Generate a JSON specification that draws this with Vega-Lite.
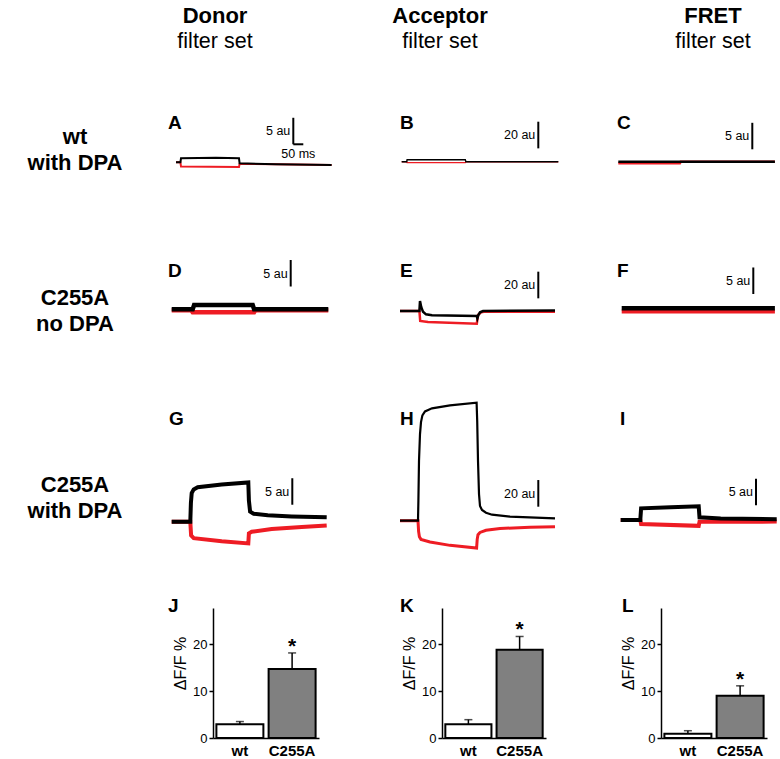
{
  "$schema": "https://vega.github.io/schema/vega-lite/v6.json",
  "padding": 0,
  "background": "white",
  "spacing": 0,
  "config": {"view": {"stroke": null}, "font": "Liberation Sans", "title": {"color": "black"}},
  "datasets": {
    "headers": [
      {"col": "Donor", "title": "Donor", "sub": "filter set"},
      {"col": "Acceptor", "title": "Acceptor", "sub": "filter set"},
      {"col": "FRET", "title": "FRET", "sub": "filter set"}
    ],
    "rowlabels": [
      {"row": 1, "label": "wt\nwith DPA"},
      {"row": 2, "label": "C255A\nno DPA"},
      {"row": 3, "label": "C255A\nwith DPA"}
    ],
    "traces": [
      {"panel":"A","s":"k","t":0,"v":0},{"panel":"A","s":"k","t":22,"v":0},{"panel":"A","s":"k","t":25,"v":0.75},{"panel":"A","s":"k","t":200,"v":0.85},{"panel":"A","s":"k","t":315,"v":0.75},{"panel":"A","s":"k","t":318,"v":-0.2},{"panel":"A","s":"k","t":500,"v":-0.35},{"panel":"A","s":"k","t":778,"v":-0.5},
      {"panel":"A","s":"r","t":0,"v":0},{"panel":"A","s":"r","t":22,"v":0},{"panel":"A","s":"r","t":25,"v":-0.8},{"panel":"A","s":"r","t":315,"v":-0.9},{"panel":"A","s":"r","t":318,"v":-0.3},{"panel":"A","s":"r","t":500,"v":-0.35},{"panel":"A","s":"r","t":778,"v":-0.5},
      {"panel":"B","s":"k","t":0,"v":0},{"panel":"B","s":"k","t":25,"v":0},{"panel":"B","s":"k","t":27,"v":1.5},{"panel":"B","s":"k","t":318,"v":1.5},{"panel":"B","s":"k","t":321,"v":0},{"panel":"B","s":"k","t":783,"v":0},
      {"panel":"B","s":"r","t":0,"v":0},{"panel":"B","s":"r","t":25,"v":0},{"panel":"B","s":"r","t":27,"v":-0.7},{"panel":"B","s":"r","t":318,"v":-0.7},{"panel":"B","s":"r","t":321,"v":0},{"panel":"B","s":"r","t":783,"v":0},
      {"panel":"C","s":"k","t":0,"v":0},{"panel":"C","s":"k","t":783,"v":0},
      {"panel":"C","s":"r","t":0,"v":-0.3},{"panel":"C","s":"r","t":308,"v":-0.3},{"panel":"C","s":"r","t":312,"v":0},{"panel":"C","s":"r","t":783,"v":0},
      {"panel":"D","s":"k","t":0,"v":0},{"panel":"D","s":"k","t":105,"v":0},{"panel":"D","s":"k","t":112,"v":0.8},{"panel":"D","s":"k","t":405,"v":0.8},{"panel":"D","s":"k","t":412,"v":0},{"panel":"D","s":"k","t":783,"v":0},
      {"panel":"D","s":"r","t":0,"v":-0.2},{"panel":"D","s":"r","t":98,"v":-0.2},{"panel":"D","s":"r","t":105,"v":-0.55},{"panel":"D","s":"r","t":412,"v":-0.55},{"panel":"D","s":"r","t":418,"v":-0.2},{"panel":"D","s":"r","t":783,"v":-0.2},
      {"panel":"E","s":"k","t":0,"v":0},{"panel":"E","s":"k","t":97,"v":0},{"panel":"E","s":"k","t":100,"v":7.5},{"panel":"E","s":"k","t":106,"v":3},{"panel":"E","s":"k","t":115,"v":-0.5},{"panel":"E","s":"k","t":130,"v":-2.5},{"panel":"E","s":"k","t":160,"v":-3.2},{"panel":"E","s":"k","t":384,"v":-3.8},{"panel":"E","s":"k","t":387,"v":-5.5},{"panel":"E","s":"k","t":392,"v":-3},{"panel":"E","s":"k","t":400,"v":-1},{"panel":"E","s":"k","t":415,"v":0},{"panel":"E","s":"k","t":775,"v":0.3},
      {"panel":"E","s":"r","t":0,"v":0},{"panel":"E","s":"r","t":97,"v":0},{"panel":"E","s":"r","t":101,"v":-7.5},{"panel":"E","s":"r","t":140,"v":-8.2},{"panel":"E","s":"r","t":384,"v":-9.5},{"panel":"E","s":"r","t":390,"v":-3},{"panel":"E","s":"r","t":405,"v":-1},{"panel":"E","s":"r","t":420,"v":-0.6},{"panel":"E","s":"r","t":775,"v":-0.6},
      {"panel":"F","s":"k","t":0,"v":0},{"panel":"F","s":"k","t":766,"v":0},
      {"panel":"F","s":"r","t":0,"v":-0.6},{"panel":"F","s":"r","t":766,"v":-0.6},
      {"panel":"G","s":"k","t":0,"v":0},{"panel":"G","s":"k","t":93,"v":0},{"panel":"G","s":"k","t":96,"v":3.5},{"panel":"G","s":"k","t":100,"v":5.4},{"panel":"G","s":"k","t":110,"v":6.1},{"panel":"G","s":"k","t":130,"v":6.5},{"panel":"G","s":"k","t":250,"v":7.0},{"panel":"G","s":"k","t":383,"v":7.4},{"panel":"G","s":"k","t":386,"v":4},{"panel":"G","s":"k","t":392,"v":1.9},{"panel":"G","s":"k","t":410,"v":1.5},{"panel":"G","s":"k","t":480,"v":1.2},{"panel":"G","s":"k","t":600,"v":1.0},{"panel":"G","s":"k","t":775,"v":0.85},
      {"panel":"G","s":"r","t":0,"v":0},{"panel":"G","s":"r","t":93,"v":0},{"panel":"G","s":"r","t":97,"v":-2.6},{"panel":"G","s":"r","t":110,"v":-3.1},{"panel":"G","s":"r","t":250,"v":-3.7},{"panel":"G","s":"r","t":383,"v":-4.1},{"panel":"G","s":"r","t":386,"v":-2.2},{"panel":"G","s":"r","t":400,"v":-1.9},{"panel":"G","s":"r","t":500,"v":-1.4},{"panel":"G","s":"r","t":650,"v":-1.0},{"panel":"G","s":"r","t":775,"v":-0.7},
      {"panel":"H","s":"k","t":0,"v":0},{"panel":"H","s":"k","t":90,"v":0},{"panel":"H","s":"k","t":92,"v":15},{"panel":"H","s":"k","t":95,"v":45},{"panel":"H","s":"k","t":100,"v":65},{"panel":"H","s":"k","t":105,"v":74},{"panel":"H","s":"k","t":112,"v":79},{"panel":"H","s":"k","t":125,"v":82},{"panel":"H","s":"k","t":160,"v":84.3},{"panel":"H","s":"k","t":250,"v":86.5},{"panel":"H","s":"k","t":383,"v":88.5},{"panel":"H","s":"k","t":386,"v":75},{"panel":"H","s":"k","t":390,"v":45},{"panel":"H","s":"k","t":395,"v":20},{"panel":"H","s":"k","t":400,"v":11},{"panel":"H","s":"k","t":410,"v":8},{"panel":"H","s":"k","t":430,"v":6},{"panel":"H","s":"k","t":460,"v":4.5},{"panel":"H","s":"k","t":550,"v":3},{"panel":"H","s":"k","t":775,"v":1.8},
      {"panel":"H","s":"r","t":0,"v":0},{"panel":"H","s":"r","t":90,"v":0},{"panel":"H","s":"r","t":93,"v":-8},{"panel":"H","s":"r","t":97,"v":-12},{"panel":"H","s":"r","t":105,"v":-14},{"panel":"H","s":"r","t":150,"v":-16},{"panel":"H","s":"r","t":250,"v":-18.5},{"panel":"H","s":"r","t":383,"v":-20.5},{"panel":"H","s":"r","t":386,"v":-14},{"panel":"H","s":"r","t":390,"v":-10.5},{"panel":"H","s":"r","t":400,"v":-8.8},{"panel":"H","s":"r","t":430,"v":-7.2},{"panel":"H","s":"r","t":500,"v":-5.8},{"panel":"H","s":"r","t":650,"v":-5},{"panel":"H","s":"r","t":775,"v":-4.5},
      {"panel":"I","s":"k","t":0,"v":0},{"panel":"I","s":"k","t":98,"v":0},{"panel":"I","s":"k","t":102,"v":2.2},{"panel":"I","s":"k","t":250,"v":2.4},{"panel":"I","s":"k","t":390,"v":2.6},{"panel":"I","s":"k","t":394,"v":0.5},{"panel":"I","s":"k","t":500,"v":0.3},{"panel":"I","s":"k","t":780,"v":0.15},
      {"panel":"I","s":"r","t":0,"v":0},{"panel":"I","s":"r","t":98,"v":0},{"panel":"I","s":"r","t":102,"v":-0.75},{"panel":"I","s":"r","t":390,"v":-1.1},{"panel":"I","s":"r","t":394,"v":-0.35},{"panel":"I","s":"r","t":780,"v":-0.3}
    ],
    "scalebars": [
      {"panel":"A","t":586.5,"v":3.4,"v2":8.4,"label":"5 au"},
      {"panel":"B","t":683,"v":10,"v2":30,"label":"20 au"},
      {"panel":"C","t":670,"v":2.34,"v2":7.34,"label":"5 au"},
      {"panel":"D","t":595,"v":4.3,"v2":9.3,"label":"5 au"},
      {"panel":"E","t":691.5,"v":9.5,"v2":29.5,"label":"20 au"},
      {"panel":"F","t":658,"v":2.7,"v2":7.7,"label":"5 au"},
      {"panel":"G","t":603,"v":3.2,"v2":8.2,"label":"5 au"},
      {"panel":"H","t":691.5,"v":10.5,"v2":30.5,"label":"20 au"},
      {"panel":"I","t":676.5,"v":2.8,"v2":7.8,"label":"5 au"}
    ],
    "timebars": [
      {"panel":"A","t":586.5,"t2":636.5,"v":3.4,"label":"50 ms"}
    ],
    "bars": [
      {"panel":"J","group":"wt","mean":2.9,"upper":3.5,"sig":""},
      {"panel":"J","group":"C255A","mean":14.7,"upper":18.1,"sig":"*"},
      {"panel":"K","group":"wt","mean":2.9,"upper":3.9,"sig":""},
      {"panel":"K","group":"C255A","mean":18.8,"upper":21.6,"sig":"*"},
      {"panel":"L","group":"wt","mean":0.9,"upper":1.55,"sig":""},
      {"panel":"L","group":"C255A","mean":9.0,"upper":11.1,"sig":"*"}
    ]
  },
  "vconcat": [
    {
      "bounds": "flush", "spacing": 0,
      "hconcat": [
        {"width": 130, "height": 60, "data": {"values": []}, "mark": "point"},
        {"width": 170, "height": 60, "data": {"name": "headers"}, "transform": [{"filter": "datum.col === 'Donor'"}],
         "layer": [
           {"mark": {"type": "text", "fontSize": 22, "fontWeight": "bold", "baseline": "middle", "dy": -14, "color": "black"}, "encoding": {"text": {"field": "title"}}},
           {"mark": {"type": "text", "fontSize": 21.5, "baseline": "middle", "dy": 11.5, "color": "black"}, "encoding": {"text": {"field": "sub"}}}
         ]},
        {"width": 280, "height": 60, "data": {"name": "headers"}, "transform": [{"filter": "datum.col === 'Acceptor'"}],
         "layer": [
           {"mark": {"type": "text", "fontSize": 22, "fontWeight": "bold", "baseline": "middle", "dy": -14, "color": "black"}, "encoding": {"text": {"field": "title"}}},
           {"mark": {"type": "text", "fontSize": 21.5, "baseline": "middle", "dy": 11.5, "color": "black"}, "encoding": {"text": {"field": "sub"}}}
         ]},
        {"width": 66, "height": 60, "data": {"values": []}, "mark": "point"},
        {"width": 134, "height": 60, "data": {"name": "headers"}, "transform": [{"filter": "datum.col === 'FRET'"}],
         "layer": [
           {"mark": {"type": "text", "fontSize": 22, "fontWeight": "bold", "baseline": "middle", "dy": -14, "color": "black"}, "encoding": {"text": {"field": "title"}}},
           {"mark": {"type": "text", "fontSize": 21.5, "baseline": "middle", "dy": 11.5, "color": "black"}, "encoding": {"text": {"field": "sub"}}}
         ]}
      ]
    },
    {
      "bounds": "flush", "spacing": 0,
      "hconcat": [
        {"width": 150, "height": 145, "data": {"name": "rowlabels"}, "transform": [{"filter": "datum.row === 1"}],
         "mark": {"type": "text", "fontSize": 22, "fontWeight": "bold", "baseline": "middle", "lineBreak": "\n", "lineHeight": 26, "dy": 4.5, "color": "black"},
         "encoding": {"text": {"field": "label"}}},
        {"width": 250, "height": 145,
         "title": {"text": "A", "anchor": "start", "frame": "group", "fontSize": 19, "fontWeight": "bold", "offset": -73, "dx": 18},
         "encoding": {"x": {"field": "t", "type": "quantitative", "scale": {"domain": [-130, 1120], "nice": false, "zero": false}, "axis": null},
                      "y": {"field": "v", "type": "quantitative", "scale": {"domain": [-8.057, 19.302], "nice": false, "zero": false}, "axis": null}},
         "layer": [
           {"data": {"name": "traces"}, "transform": [{"filter": "datum.panel === 'A' && datum.s === 'r'"}], "mark": {"type": "line", "color": "#ee1c24", "strokeWidth": 2}},
           {"data": {"name": "traces"}, "transform": [{"filter": "datum.panel === 'A' && datum.s === 'k'"}], "mark": {"type": "line", "color": "black", "strokeWidth": 2}},
           {"data": {"name": "scalebars"}, "transform": [{"filter": "datum.panel === 'A'"}], "mark": {"type": "rule", "color": "black", "strokeWidth": 2}, "encoding": {"y2": {"field": "v2"}}},
           {"data": {"name": "scalebars"}, "transform": [{"filter": "datum.panel === 'A'"}], "mark": {"type": "text", "align": "right", "baseline": "middle", "dx": -3, "dy": -13, "fontSize": 12.5, "color": "black"}, "encoding": {"text": {"field": "label"}}},
           {"data": {"name": "timebars"}, "transform": [{"filter": "datum.panel === 'A'"}], "mark": {"type": "rule", "color": "black", "strokeWidth": 2}, "encoding": {"x2": {"field": "t2"}}},
           {"data": {"name": "timebars"}, "transform": [{"filter": "datum.panel === 'A'"}], "mark": {"type": "text", "align": "center", "baseline": "middle", "dx": 5, "dy": 10, "fontSize": 12.5, "color": "black"}, "encoding": {"text": {"field": "label"}}}
         ]},
        {"width": 217, "height": 145,
         "title": {"text": "B", "anchor": "start", "frame": "group", "fontSize": 19, "fontWeight": "bold", "offset": -73, "dx": 0},
         "encoding": {"x": {"field": "t", "type": "quantitative", "scale": {"domain": [-8.5, 1076.5], "nice": false, "zero": false}, "axis": null},
                      "y": {"field": "v", "type": "quantitative", "scale": {"domain": [-32.48, 76.28], "nice": false, "zero": false}, "axis": null}},
         "layer": [
           {"data": {"name": "traces"}, "transform": [{"filter": "datum.panel === 'B' && datum.s === 'r'"}], "mark": {"type": "line", "color": "#ee1c24", "strokeWidth": 1.4}},
           {"data": {"name": "traces"}, "transform": [{"filter": "datum.panel === 'B' && datum.s === 'k'"}], "mark": {"type": "line", "color": "black", "strokeWidth": 1.4}},
           {"data": {"name": "scalebars"}, "transform": [{"filter": "datum.panel === 'B'"}], "mark": {"type": "rule", "color": "black", "strokeWidth": 2}, "encoding": {"y2": {"field": "v2"}}},
           {"data": {"name": "scalebars"}, "transform": [{"filter": "datum.panel === 'B'"}], "mark": {"type": "text", "align": "right", "baseline": "middle", "dx": -3, "dy": -13, "fontSize": 12.5, "color": "black"}, "encoding": {"text": {"field": "label"}}}
         ]},
        {"width": 163, "height": 145,
         "title": {"text": "C", "anchor": "start", "frame": "group", "fontSize": 19, "fontWeight": "bold", "offset": -73, "dx": 0},
         "encoding": {"x": {"field": "t", "type": "quantitative", "scale": {"domain": [-6.5, 808.5], "nice": false, "zero": false}, "axis": null},
                      "y": {"field": "v", "type": "quantitative", "scale": {"domain": [-8.17, 19.19], "nice": false, "zero": false}, "axis": null}},
         "layer": [
           {"data": {"name": "traces"}, "transform": [{"filter": "datum.panel === 'C' && datum.s === 'r'"}], "mark": {"type": "line", "color": "#ee1c24", "strokeWidth": 2.5}},
           {"data": {"name": "traces"}, "transform": [{"filter": "datum.panel === 'C' && datum.s === 'k'"}], "mark": {"type": "line", "color": "black", "strokeWidth": 2.5}},
           {"data": {"name": "scalebars"}, "transform": [{"filter": "datum.panel === 'C'"}], "mark": {"type": "rule", "color": "black", "strokeWidth": 2}, "encoding": {"y2": {"field": "v2"}}},
           {"data": {"name": "scalebars"}, "transform": [{"filter": "datum.panel === 'C'"}], "mark": {"type": "text", "align": "right", "baseline": "middle", "dx": -3, "dy": -13, "fontSize": 12.5, "color": "black"}, "encoding": {"text": {"field": "label"}}}
         ]}
      ]
    },
    {
      "bounds": "flush", "spacing": 0,
      "hconcat": [
        {"width": 150, "height": 155, "data": {"name": "rowlabels"}, "transform": [{"filter": "datum.row === 2"}],
         "mark": {"type": "text", "fontSize": 22, "fontWeight": "bold", "baseline": "middle", "lineBreak": "\n", "lineHeight": 26, "dy": 15.5, "color": "black"},
         "encoding": {"text": {"field": "label"}}},
        {"width": 250, "height": 155,
         "title": {"text": "D", "anchor": "start", "frame": "group", "fontSize": 19, "fontWeight": "bold", "offset": -76, "dx": 18},
         "encoding": {"x": {"field": "t", "type": "quantitative", "scale": {"domain": [-108.5, 1141.5], "nice": false, "zero": false}, "axis": null},
                      "y": {"field": "v", "type": "quantitative", "scale": {"domain": [-9.566, 19.679], "nice": false, "zero": false}, "axis": null}},
         "layer": [
           {"data": {"name": "traces"}, "transform": [{"filter": "datum.panel === 'D' && datum.s === 'r'"}], "mark": {"type": "line", "color": "#ee1c24", "strokeWidth": 4.5}},
           {"data": {"name": "traces"}, "transform": [{"filter": "datum.panel === 'D' && datum.s === 'k'"}], "mark": {"type": "line", "color": "black", "strokeWidth": 4.5}},
           {"data": {"name": "scalebars"}, "transform": [{"filter": "datum.panel === 'D'"}], "mark": {"type": "rule", "color": "black", "strokeWidth": 2}, "encoding": {"y2": {"field": "v2"}}},
           {"data": {"name": "scalebars"}, "transform": [{"filter": "datum.panel === 'D'"}], "mark": {"type": "text", "align": "right", "baseline": "middle", "dx": -3, "dy": -13, "fontSize": 12.5, "color": "black"}, "encoding": {"text": {"field": "label"}}}
         ]},
        {"width": 217, "height": 155,
         "title": {"text": "E", "anchor": "start", "frame": "group", "fontSize": 19, "fontWeight": "bold", "offset": -76, "dx": 0},
         "encoding": {"x": {"field": "t", "type": "quantitative", "scale": {"domain": [0, 1085], "nice": false, "zero": false}, "axis": null},
                      "y": {"field": "v", "type": "quantitative", "scale": {"domain": [-36.75, 79.5], "nice": false, "zero": false}, "axis": null}},
         "layer": [
           {"data": {"name": "traces"}, "transform": [{"filter": "datum.panel === 'E' && datum.s === 'r'"}], "mark": {"type": "line", "color": "#ee1c24", "strokeWidth": 2.5}},
           {"data": {"name": "traces"}, "transform": [{"filter": "datum.panel === 'E' && datum.s === 'k'"}], "mark": {"type": "line", "color": "black", "strokeWidth": 2.5}},
           {"data": {"name": "scalebars"}, "transform": [{"filter": "datum.panel === 'E'"}], "mark": {"type": "rule", "color": "black", "strokeWidth": 2}, "encoding": {"y2": {"field": "v2"}}},
           {"data": {"name": "scalebars"}, "transform": [{"filter": "datum.panel === 'E'"}], "mark": {"type": "text", "align": "right", "baseline": "middle", "dx": -3, "dy": -13, "fontSize": 12.5, "color": "black"}, "encoding": {"text": {"field": "label"}}}
         ]},
        {"width": 163, "height": 155,
         "title": {"text": "F", "anchor": "start", "frame": "group", "fontSize": 19, "fontWeight": "bold", "offset": -76, "dx": 0},
         "encoding": {"x": {"field": "t", "type": "quantitative", "scale": {"domain": [-23.5, 791.5], "nice": false, "zero": false}, "axis": null},
                      "y": {"field": "v", "type": "quantitative", "scale": {"domain": [-9.755, 19.49], "nice": false, "zero": false}, "axis": null}},
         "layer": [
           {"data": {"name": "traces"}, "transform": [{"filter": "datum.panel === 'F' && datum.s === 'r'"}], "mark": {"type": "line", "color": "#ee1c24", "strokeWidth": 4}},
           {"data": {"name": "traces"}, "transform": [{"filter": "datum.panel === 'F' && datum.s === 'k'"}], "mark": {"type": "line", "color": "black", "strokeWidth": 4.5}},
           {"data": {"name": "scalebars"}, "transform": [{"filter": "datum.panel === 'F'"}], "mark": {"type": "rule", "color": "black", "strokeWidth": 2}, "encoding": {"y2": {"field": "v2"}}},
           {"data": {"name": "scalebars"}, "transform": [{"filter": "datum.panel === 'F'"}], "mark": {"type": "text", "align": "right", "baseline": "middle", "dx": -3, "dy": -13, "fontSize": 12.5, "color": "black"}, "encoding": {"text": {"field": "label"}}}
         ]}
      ]
    },
    {
      "bounds": "flush", "spacing": 0,
      "hconcat": [
        {"width": 150, "height": 237, "data": {"name": "rowlabels"}, "transform": [{"filter": "datum.row === 3"}],
         "mark": {"type": "text", "fontSize": 22, "fontWeight": "bold", "baseline": "middle", "lineBreak": "\n", "lineHeight": 26, "dy": 6.5, "color": "black"},
         "encoding": {"text": {"field": "label"}}},
        {"width": 250, "height": 237,
         "title": {"text": "G", "anchor": "start", "frame": "group", "fontSize": 19, "fontWeight": "bold", "offset": -69, "dx": 19},
         "encoding": {"x": {"field": "t", "type": "quantitative", "scale": {"domain": [-108.5, 1141.5], "nice": false, "zero": false}, "axis": null},
                      "y": {"field": "v", "type": "quantitative", "scale": {"domain": [-14.21, 30.51], "nice": false, "zero": false}, "axis": null}},
         "layer": [
           {"data": {"name": "traces"}, "transform": [{"filter": "datum.panel === 'G' && datum.s === 'r'"}], "mark": {"type": "line", "color": "#ee1c24", "strokeWidth": 4}},
           {"data": {"name": "traces"}, "transform": [{"filter": "datum.panel === 'G' && datum.s === 'k'"}], "mark": {"type": "line", "color": "black", "strokeWidth": 4}},
           {"data": {"name": "scalebars"}, "transform": [{"filter": "datum.panel === 'G'"}], "mark": {"type": "rule", "color": "black", "strokeWidth": 2}, "encoding": {"y2": {"field": "v2"}}},
           {"data": {"name": "scalebars"}, "transform": [{"filter": "datum.panel === 'G'"}], "mark": {"type": "text", "align": "right", "baseline": "middle", "dx": -3, "dy": -13, "fontSize": 12.5, "color": "black"}, "encoding": {"text": {"field": "label"}}}
         ]},
        {"width": 217, "height": 237,
         "title": {"text": "H", "anchor": "start", "frame": "group", "fontSize": 19, "fontWeight": "bold", "offset": -69, "dx": 0},
         "encoding": {"x": {"field": "t", "type": "quantitative", "scale": {"domain": [0, 1085], "nice": false, "zero": false}, "axis": null},
                      "y": {"field": "v", "type": "quantitative", "scale": {"domain": [-57.23, 120.53], "nice": false, "zero": false}, "axis": null}},
         "layer": [
           {"data": {"name": "traces"}, "transform": [{"filter": "datum.panel === 'H' && datum.s === 'r'"}], "mark": {"type": "line", "color": "#ee1c24", "strokeWidth": 3}},
           {"data": {"name": "traces"}, "transform": [{"filter": "datum.panel === 'H' && datum.s === 'k'"}], "mark": {"type": "line", "color": "black", "strokeWidth": 2.2}},
           {"data": {"name": "scalebars"}, "transform": [{"filter": "datum.panel === 'H'"}], "mark": {"type": "rule", "color": "black", "strokeWidth": 2}, "encoding": {"y2": {"field": "v2"}}},
           {"data": {"name": "scalebars"}, "transform": [{"filter": "datum.panel === 'H'"}], "mark": {"type": "text", "align": "right", "baseline": "middle", "dx": -3, "dy": -13, "fontSize": 12.5, "color": "black"}, "encoding": {"text": {"field": "label"}}}
         ]},
        {"width": 163, "height": 237,
         "title": {"text": "I", "anchor": "start", "frame": "group", "fontSize": 19, "fontWeight": "bold", "offset": -69, "dx": 3},
         "encoding": {"x": {"field": "t", "type": "quantitative", "scale": {"domain": [-18.5, 796.5], "nice": false, "zero": false}, "axis": null},
                      "y": {"field": "v", "type": "quantitative", "scale": {"domain": [-14.53, 30.19], "nice": false, "zero": false}, "axis": null}},
         "layer": [
           {"data": {"name": "traces"}, "transform": [{"filter": "datum.panel === 'I' && datum.s === 'r'"}], "mark": {"type": "line", "color": "#ee1c24", "strokeWidth": 4}},
           {"data": {"name": "traces"}, "transform": [{"filter": "datum.panel === 'I' && datum.s === 'k'"}], "mark": {"type": "line", "color": "black", "strokeWidth": 4}},
           {"data": {"name": "scalebars"}, "transform": [{"filter": "datum.panel === 'I'"}], "mark": {"type": "rule", "color": "black", "strokeWidth": 2}, "encoding": {"y2": {"field": "v2"}}},
           {"data": {"name": "scalebars"}, "transform": [{"filter": "datum.panel === 'I'"}], "mark": {"type": "text", "align": "right", "baseline": "middle", "dx": -3, "dy": -13, "fontSize": 12.5, "color": "black"}, "encoding": {"text": {"field": "label"}}}
         ]}
      ]
    },
    {
      "bounds": "flush", "spacing": 0,
      "hconcat": [
        {"width": 213, "height": 130, "data": {"values": []}, "mark": "point"},
        {"width": 106, "height": 130,
         "title": {"text": "J", "anchor": "start", "frame": "group", "fontSize": 19, "fontWeight": "bold", "offset": -8, "dx": -45},
         "data": {"name": "bars"}, "transform": [{"filter": "datum.panel === 'J'"}],
         "encoding": {"x": {"field": "group", "type": "nominal", "sort": ["wt", "C255A"], "scale": {"paddingInner": 0.1, "paddingOuter": 0.065},
                            "axis": {"title": null, "labelAngle": 0, "ticks": false, "tickSize": 0, "labelFontWeight": "bold", "labelFontSize": 15, "labelPadding": 5, "labelColor": "black", "domainColor": "black", "domainWidth": 1.5}}},
         "layer": [
           {"mark": {"type": "rule", "color": "black", "strokeWidth": 1.5}, "encoding": {"y": {"field": "mean", "type": "quantitative", "title": "ΔF/F %"}, "y2": {"field": "upper"}}},
           {"mark": {"type": "tick", "color": "black", "thickness": 1.5, "size": 8}, "encoding": {"y": {"field": "upper", "type": "quantitative", "title": "ΔF/F %"}}},
           {"mark": {"type": "bar", "stroke": "black", "strokeWidth": 2}, "encoding": {
              "y": {"field": "mean", "type": "quantitative", "title": "ΔF/F %", "scale": {"domain": [0, 27.66], "nice": false},
                    "axis": {"values": [0, 5, 10, 15, 20, 25], "labelExpr": "datum.value % 10 === 0 ? datum.label : ''", "grid": false, "tickSize": 4, "tickWidth": 1.5, "tickColor": "black", "domainColor": "black", "domainWidth": 1.5, "labelFontSize": 13, "labelColor": "black", "labelPadding": 2, "titleFontSize": 16, "titleFontWeight": "normal", "titleColor": "black", "titlePadding": 4, "titleY": 55}},
              "fill": {"field": "group", "type": "nominal", "scale": {"domain": ["wt", "C255A"], "range": ["white", "#808080"]}, "legend": null}}},
           {"mark": {"type": "text", "fontSize": 21, "fontWeight": "bold", "baseline": "alphabetic", "dy": 0, "color": "black"}, "encoding": {"y": {"field": "upper", "type": "quantitative", "title": "ΔF/F %"}, "text": {"field": "sig"}}}
         ]},
        {"width": 123, "height": 130, "data": {"values": []}, "mark": "point"},
        {"width": 104, "height": 130,
         "title": {"text": "K", "anchor": "start", "frame": "group", "fontSize": 19, "fontWeight": "bold", "offset": -8, "dx": -42},
         "data": {"name": "bars"}, "transform": [{"filter": "datum.panel === 'K'"}],
         "encoding": {"x": {"field": "group", "type": "nominal", "sort": ["wt", "C255A"], "scale": {"paddingInner": 0.1, "paddingOuter": 0.065},
                            "axis": {"title": null, "labelAngle": 0, "ticks": false, "tickSize": 0, "labelFontWeight": "bold", "labelFontSize": 15, "labelPadding": 5, "labelColor": "black", "domainColor": "black", "domainWidth": 1.5}}},
         "layer": [
           {"mark": {"type": "rule", "color": "black", "strokeWidth": 1.5}, "encoding": {"y": {"field": "mean", "type": "quantitative", "title": "ΔF/F %"}, "y2": {"field": "upper"}}},
           {"mark": {"type": "tick", "color": "black", "thickness": 1.5, "size": 8}, "encoding": {"y": {"field": "upper", "type": "quantitative", "title": "ΔF/F %"}}},
           {"mark": {"type": "bar", "stroke": "black", "strokeWidth": 2}, "encoding": {
              "y": {"field": "mean", "type": "quantitative", "title": "ΔF/F %", "scale": {"domain": [0, 27.66], "nice": false},
                    "axis": {"values": [0, 5, 10, 15, 20, 25], "labelExpr": "datum.value % 10 === 0 ? datum.label : ''", "grid": false, "tickSize": 4, "tickWidth": 1.5, "tickColor": "black", "domainColor": "black", "domainWidth": 1.5, "labelFontSize": 13, "labelColor": "black", "labelPadding": 2, "titleFontSize": 16, "titleFontWeight": "normal", "titleColor": "black", "titlePadding": 4, "titleY": 55}},
              "fill": {"field": "group", "type": "nominal", "scale": {"domain": ["wt", "C255A"], "range": ["white", "#808080"]}, "legend": null}}},
           {"mark": {"type": "text", "fontSize": 21, "fontWeight": "bold", "baseline": "alphabetic", "dy": 0, "color": "black"}, "encoding": {"y": {"field": "upper", "type": "quantitative", "title": "ΔF/F %"}, "text": {"field": "sig"}}}
         ]},
        {"width": 115, "height": 130, "data": {"values": []}, "mark": "point"},
        {"width": 106, "height": 130,
         "title": {"text": "L", "anchor": "start", "frame": "group", "fontSize": 19, "fontWeight": "bold", "offset": -8, "dx": -39},
         "data": {"name": "bars"}, "transform": [{"filter": "datum.panel === 'L'"}],
         "encoding": {"x": {"field": "group", "type": "nominal", "sort": ["wt", "C255A"], "scale": {"paddingInner": 0.1, "paddingOuter": 0.065},
                            "axis": {"title": null, "labelAngle": 0, "ticks": false, "tickSize": 0, "labelFontWeight": "bold", "labelFontSize": 15, "labelPadding": 5, "labelColor": "black", "domainColor": "black", "domainWidth": 1.5}}},
         "layer": [
           {"mark": {"type": "rule", "color": "black", "strokeWidth": 1.5}, "encoding": {"y": {"field": "mean", "type": "quantitative", "title": "ΔF/F %"}, "y2": {"field": "upper"}}},
           {"mark": {"type": "tick", "color": "black", "thickness": 1.5, "size": 8}, "encoding": {"y": {"field": "upper", "type": "quantitative", "title": "ΔF/F %"}}},
           {"mark": {"type": "bar", "stroke": "black", "strokeWidth": 2}, "encoding": {
              "y": {"field": "mean", "type": "quantitative", "title": "ΔF/F %", "scale": {"domain": [0, 27.66], "nice": false},
                    "axis": {"values": [0, 5, 10, 15, 20, 25], "labelExpr": "datum.value % 10 === 0 ? datum.label : ''", "grid": false, "tickSize": 4, "tickWidth": 1.5, "tickColor": "black", "domainColor": "black", "domainWidth": 1.5, "labelFontSize": 13, "labelColor": "black", "labelPadding": 2, "titleFontSize": 16, "titleFontWeight": "normal", "titleColor": "black", "titlePadding": 4, "titleY": 55}},
              "fill": {"field": "group", "type": "nominal", "scale": {"domain": ["wt", "C255A"], "range": ["white", "#808080"]}, "legend": null}}},
           {"mark": {"type": "text", "fontSize": 21, "fontWeight": "bold", "baseline": "alphabetic", "dy": 0, "color": "black"}, "encoding": {"y": {"field": "upper", "type": "quantitative", "title": "ΔF/F %"}, "text": {"field": "sig"}}}
         ]}
      ]
    }
  ]
}
